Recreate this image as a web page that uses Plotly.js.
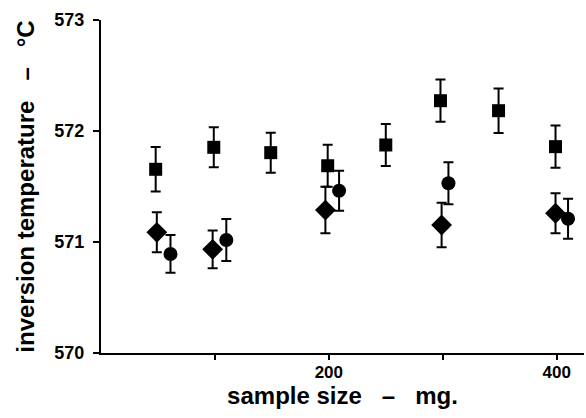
<!DOCTYPE html>
<html><head><meta charset="utf-8">
<script src="https://cdn.plot.ly/plotly-3.0.1.min.js"></script>
<style>body{margin:0;background:#fff}#c{width:586px;height:418px}</style>
</head><body><div id="c"></div>
<script>
const squareX = [48, 99, 149, 199, 250, 298, 349, 399];
const squareY = [571.655, 571.853, 571.805, 571.687, 571.874, 572.273, 572.183, 571.859];
const squareErr = [0.20, 0.18, 0.18, 0.19, 0.19, 0.19, 0.20, 0.19];

const diamondX = [49, 98, 197, 299, 399];
const diamondY = [571.087, 570.934, 571.288, 571.153, 571.259];
const diamondErr = [0.18, 0.17, 0.21, 0.20, 0.18];

const circleX = [61, 110, 209, 305, 410];
const circleY = [570.892, 571.018, 571.462, 571.529, 571.21];
const circleErr = [0.17, 0.19, 0.18, 0.19, 0.18];

const xTickVals = [100, 200, 300, 400];
const xTickLabels = ['', '200', '', '400'];
const xRange = [0, 424];
const yTickVals = [570, 571, 572, 573];
const yTickLabels = ['570', '571', '572', '573'];
const yRange = [570, 573];

function series(x, y, err, sym, size) {
  return {
    type: 'scatter', mode: 'markers', x: x, y: y,
    marker: {symbol: sym, size: size, color: '#000'},
    error_y: {type: 'data', array: err, visible: true, color: '#000', thickness: 2, width: 5},
    showlegend: false
  };
}

const data = [
  series(squareX, squareY, squareErr, 'square', 13),
  series(diamondX, diamondY, diamondErr, 'diamond', 16),
  series(circleX, circleY, circleErr, 'circle', 14),
  {type: 'scatter', mode: 'markers', x: [], y: [], xaxis: 'x2', yaxis: 'y2', showlegend: false, hoverinfo: 'skip'}
];

const fam = 'Liberation Sans, Arial, sans-serif';
const titleFont = {family: fam, size: 24, color: '#000', weight: 'bold'};
const bold = s => s ? '<b>' + s + '</b>' : '';
const layout = {
  width: 586, height: 418,
  margin: {l: 101, r: 2, t: 20, b: 65},
  paper_bgcolor: '#fff', plot_bgcolor: '#fff',
  font: {family: fam, color: '#000'},
  xaxis: {
    range: xRange, showgrid: false, zeroline: false, automargin: true,
    showline: true, linecolor: '#000', linewidth: 2,
    ticks: 'outside', ticklen: 3, tickwidth: 2, tickcolor: 'rgba(0,0,0,0)',
    tickvals: xTickVals, ticktext: xTickLabels.map(bold),
    tickfont: {family: fam, size: 17, color: '#000'},
    title: {text: 'sample size\u00a0\u00a0\u00a0–\u00a0\u00a0\u00a0mg.', font: titleFont, standoff: 6}
  },
  xaxis2: {
    overlaying: 'x', side: 'bottom', range: xRange,
    showgrid: false, zeroline: false, automargin: false, showline: false,
    ticks: 'outside', ticklen: 6, tickwidth: 2, tickcolor: '#000',
    tickvals: xTickVals, showticklabels: false
  },
  yaxis: {
    range: yRange, showgrid: false, zeroline: false, automargin: true,
    showline: false,
    ticks: 'outside', ticklen: 12, tickwidth: 2, tickcolor: 'rgba(0,0,0,0)',
    tickvals: yTickVals, ticktext: yTickLabels.map(bold),
    tickfont: {family: fam, size: 18, color: '#000'},
    title: {text: 'inversion temperature\u00a0\u00a0\u00a0–\u00a0\u00a0\u00a0°C', font: titleFont, standoff: 12}
  },
  yaxis2: {
    overlaying: 'y', side: 'left', range: yRange,
    showgrid: false, zeroline: false, automargin: false,
    showline: true, linecolor: '#000', linewidth: 2,
    ticks: 'outside', ticklen: 6, tickwidth: 2, tickcolor: '#000',
    tickvals: yTickVals, showticklabels: false
  }
};

Plotly.newPlot('c', data, layout, {displayModeBar: false, staticPlot: true});
</script>
</body></html>
